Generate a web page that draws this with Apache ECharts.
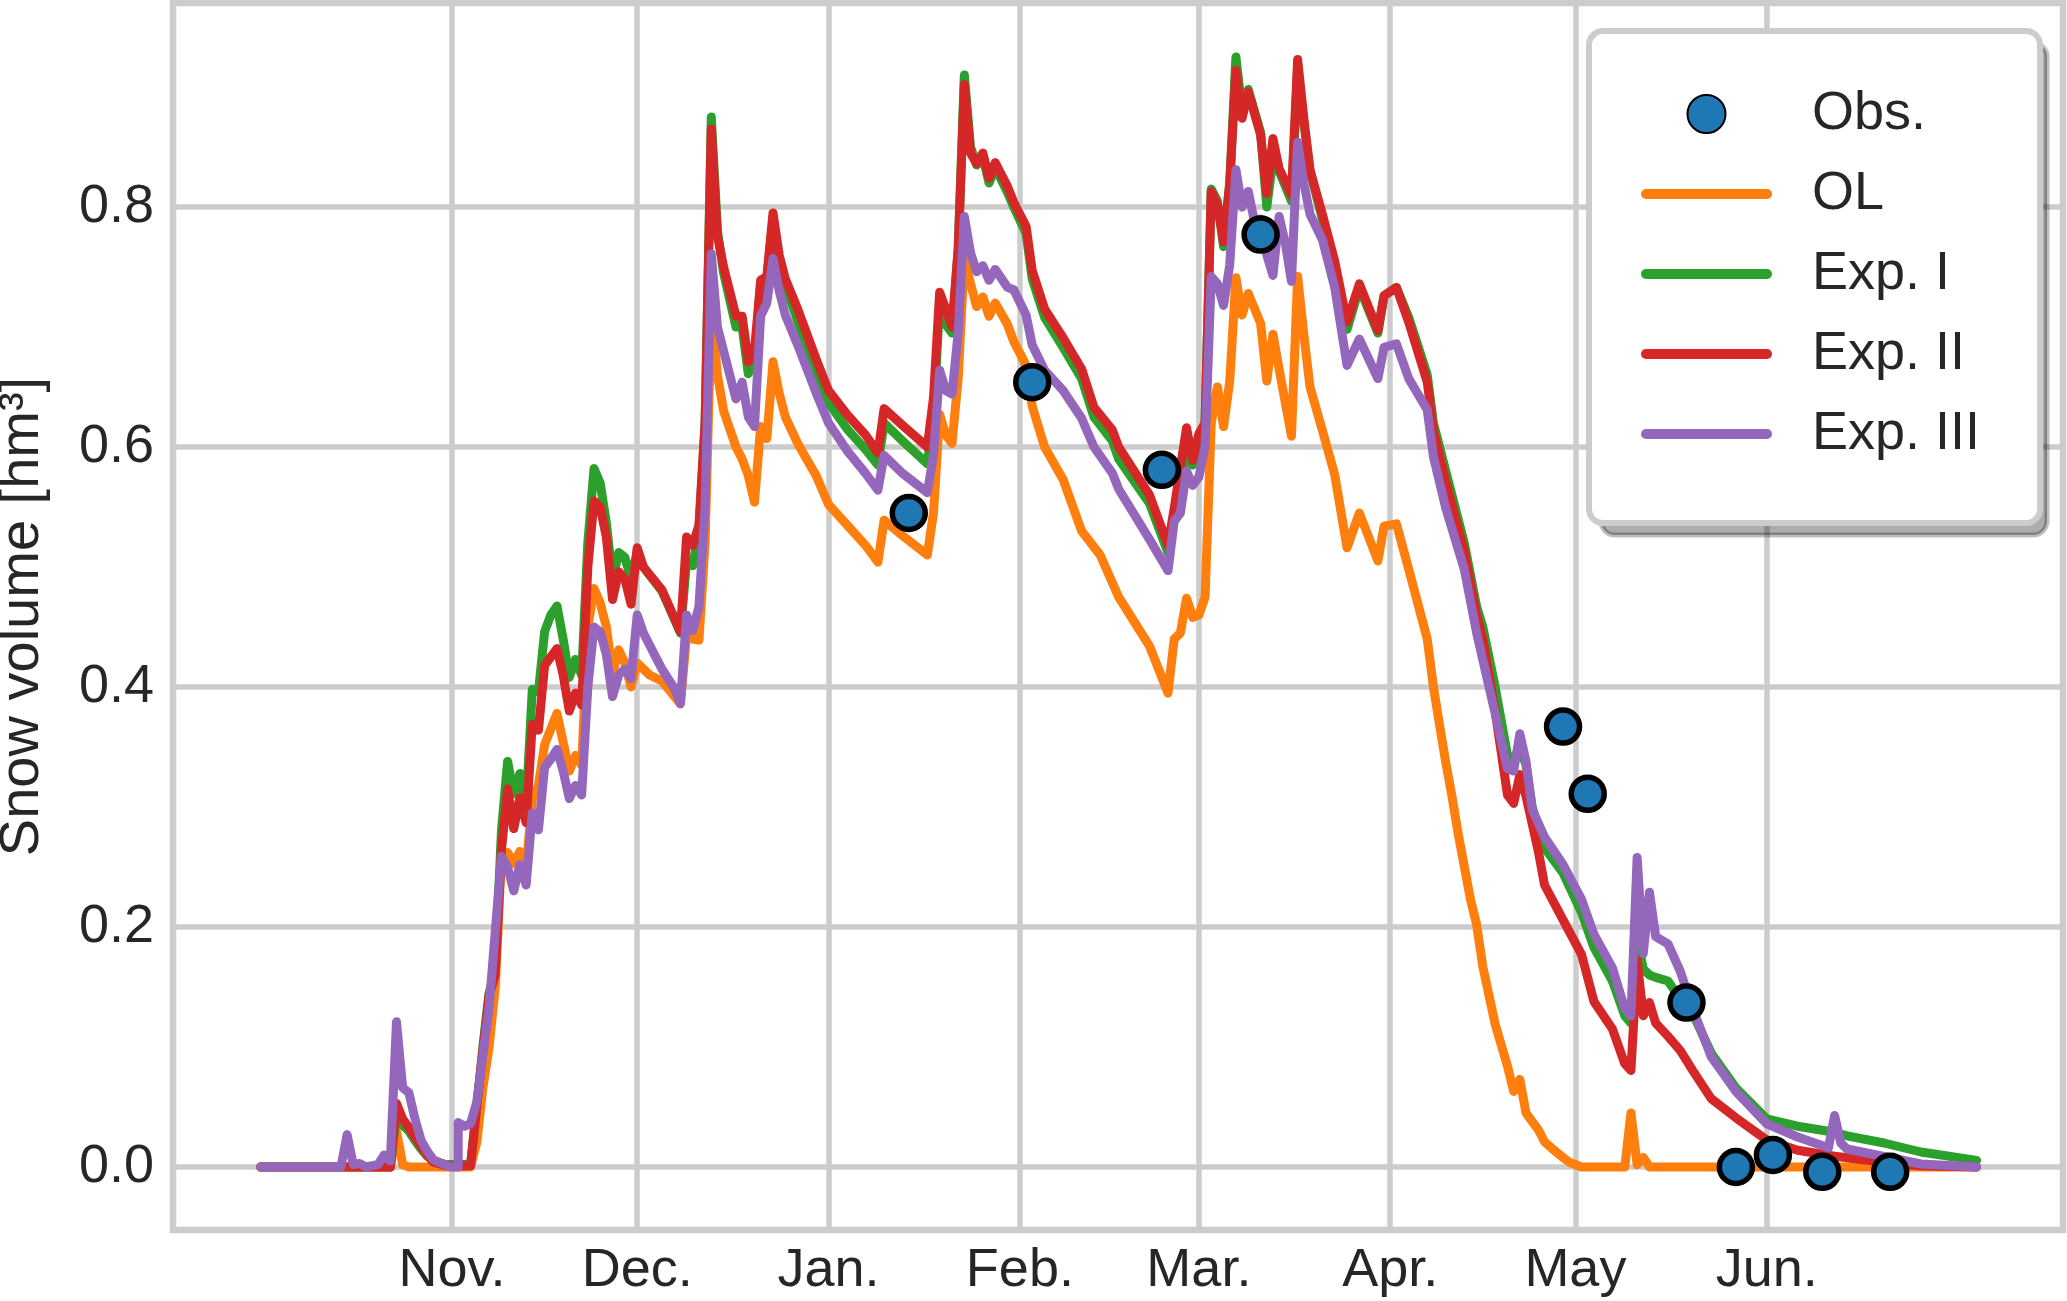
<!DOCTYPE html>
<html>
<head>
<meta charset="utf-8">
<script src="https://cdn.jsdelivr.net/npm/echarts@6.0.0/dist/echarts.min.js"></script>
<style>
  html, body { margin: 0; padding: 0; background: #fff; }
  #chart { width: 2067px; height: 1301px; }
</style>
</head>
<body>
<div id="chart"></div>
<script>
// dates are 'MM-DD', Sep-Dec in 2019, Jan-Jul in 2020
const monthStarts = ['11-01', '12-01', '01-01', '02-01', '03-01', '04-01', '05-01', '06-01']
const monthLabels = ['Nov.', 'Dec.', 'Jan.', 'Feb.', 'Mar.', 'Apr.', 'May', 'Jun.']
const yTicks = [0, 0.2, 0.4, 0.6, 0.8]

const obs = [
    ['01-14', 0.545], ['02-03', 0.654], ['02-24', 0.581], ['03-11', 0.777],
    ['04-29', 0.367], ['05-03', 0.311], ['05-19', 0.137], ['05-27', 0.0],
    ['06-02', 0.010], ['06-10', -0.004], ['06-21', -0.004]
]

const ol = [
    ['10-01', 0], ['10-22', 0], ['10-23', 0.03], ['10-24', 0.002], ['10-25', 0], ['11-04', 0],
    ['11-05', 0.02], ['11-06', 0.066], ['11-07', 0.10], ['11-08', 0.15], ['11-09', 0.257],
    ['11-10', 0.262], ['11-11', 0.253], ['11-12', 0.263], ['11-13', 0.25], ['11-14', 0.306],
    ['11-15', 0.318], ['11-16', 0.352], ['11-18', 0.378], ['11-20', 0.330], ['11-21', 0.343],
    ['11-22', 0.335], ['11-23', 0.45], ['11-24', 0.482], ['11-25', 0.47], ['11-26', 0.45],
    ['11-27', 0.411], ['11-28', 0.431], ['11-29', 0.42], ['11-30', 0.40], ['12-01', 0.42],
    ['12-03', 0.41], ['12-05', 0.405], ['12-08', 0.386], ['12-09', 0.443], ['12-10', 0.44],
    ['12-11', 0.439], ['12-12', 0.52], ['12-13', 0.715], ['12-14', 0.66], ['12-15', 0.63],
    ['12-17', 0.60], ['12-18', 0.59], ['12-19', 0.576], ['12-20', 0.554], ['12-21', 0.617],
    ['12-22', 0.607], ['12-23', 0.671], ['12-24', 0.645], ['12-25', 0.625], ['12-27', 0.603],
    ['12-30', 0.576], ['01-01', 0.552], ['01-04', 0.535], ['01-07', 0.518], ['01-09', 0.504],
    ['01-10', 0.539], ['01-13', 0.526], ['01-17', 0.510], ['01-18', 0.545], ['01-19', 0.627],
    ['01-20', 0.610], ['01-21', 0.603], ['01-22', 0.657], ['01-23', 0.757], ['01-24', 0.736],
    ['01-25', 0.717], ['01-26', 0.725], ['01-27', 0.709], ['01-28', 0.72], ['01-30', 0.702],
    ['01-31', 0.688], ['02-02', 0.668], ['02-03', 0.634], ['02-05', 0.600], ['02-08', 0.573],
    ['02-11', 0.53], ['02-14', 0.51], ['02-17', 0.475], ['02-22', 0.434], ['02-25', 0.395],
    ['02-26', 0.44], ['02-27', 0.445], ['02-28', 0.474], ['02-29', 0.458], ['03-01', 0.46],
    ['03-02', 0.475], ['03-03', 0.62], ['03-04', 0.65], ['03-05', 0.617], ['03-06', 0.655],
    ['03-07', 0.741], ['03-08', 0.710], ['03-09', 0.728], ['03-11', 0.703], ['03-12', 0.655],
    ['03-13', 0.694], ['03-14', 0.665], ['03-16', 0.609], ['03-17', 0.742], ['03-18', 0.694],
    ['03-19', 0.650], ['03-21', 0.614], ['03-23', 0.577], ['03-25', 0.516], ['03-27', 0.545],
    ['03-30', 0.505], ['03-31', 0.534], ['04-02', 0.536], ['04-04', 0.498], ['04-07', 0.44],
    ['04-08', 0.40], ['04-09', 0.368], ['04-10', 0.337], ['04-11', 0.309], ['04-12', 0.278],
    ['04-14', 0.223], ['04-15', 0.202], ['04-16', 0.167], ['04-17', 0.143], ['04-18', 0.119],
    ['04-20', 0.084], ['04-21', 0.063], ['04-22', 0.073], ['04-23', 0.045], ['04-25', 0.031],
    ['04-26', 0.021], ['04-28', 0.012], ['04-30', 0.004], ['05-02', 0], ['05-09', 0],
    ['05-10', 0.045], ['05-11', 0.002], ['05-12', 0.008], ['05-13', 0], ['07-05', 0]
]

const expI = [
    ['10-01', 0], ['10-22', 0], ['10-23', 0.045], ['10-24', 0.035], ['10-25', 0.03], ['10-26', 0.022],
    ['10-27', 0.015], ['10-28', 0.009], ['10-29', 0.005], ['10-31', 0.002], ['11-04', 0.002],
    ['11-05', 0.05], ['11-06', 0.10], ['11-07', 0.145], ['11-08', 0.165], ['11-09', 0.28],
    ['11-10', 0.338], ['11-11', 0.311], ['11-12', 0.328], ['11-13', 0.30], ['11-14', 0.398],
    ['11-15', 0.396], ['11-16', 0.446], ['11-17', 0.46], ['11-18', 0.4675], ['11-19', 0.44],
    ['11-20', 0.408], ['11-21', 0.423], ['11-22', 0.41], ['11-23', 0.52], ['11-24', 0.582],
    ['11-25', 0.57], ['11-26', 0.537], ['11-27', 0.489], ['11-28', 0.512], ['11-29', 0.508],
    ['11-30', 0.49], ['12-01', 0.512], ['12-02', 0.50], ['12-05', 0.48], ['12-08', 0.445],
    ['12-09', 0.505], ['12-10', 0.501], ['12-11', 0.53], ['12-12', 0.62], ['12-13', 0.875],
    ['12-14', 0.78], ['12-15', 0.745], ['12-17', 0.70], ['12-18', 0.70], ['12-19', 0.661],
    ['12-20', 0.675], ['12-21', 0.735], ['12-22', 0.74], ['12-23', 0.79], ['12-24', 0.755],
    ['12-25', 0.735], ['12-27', 0.705], ['12-30', 0.663], ['01-01', 0.637], ['01-04', 0.615],
    ['01-07', 0.598], ['01-09', 0.585], ['01-10', 0.620], ['01-13', 0.605], ['01-17', 0.586],
    ['01-18', 0.625], ['01-19', 0.72], ['01-20', 0.702], ['01-21', 0.695], ['01-22', 0.765],
    ['01-23', 0.91], ['01-24', 0.85], ['01-25', 0.835], ['01-26', 0.842], ['01-27', 0.82],
    ['01-28', 0.833], ['01-30', 0.812], ['01-31', 0.80], ['02-02', 0.778], ['02-03', 0.74],
    ['02-05', 0.708], ['02-08', 0.683], ['02-11', 0.657], ['02-13', 0.625], ['02-16', 0.605],
    ['02-17', 0.59], ['02-22', 0.553], ['02-25', 0.512], ['02-26', 0.545], ['02-28', 0.595],
    ['02-29', 0.585], ['03-01', 0.60], ['03-02', 0.62], ['03-03', 0.815], ['03-04', 0.805],
    ['03-05', 0.767], ['03-06', 0.82], ['03-07', 0.925], ['03-08', 0.88], ['03-09', 0.898],
    ['03-11', 0.862], ['03-12', 0.80], ['03-13', 0.84], ['03-14', 0.83], ['03-16', 0.805],
    ['03-17', 0.915], ['03-18', 0.87], ['03-19', 0.83], ['03-21', 0.79], ['03-23', 0.752],
    ['03-25', 0.698], ['03-27', 0.733], ['03-30', 0.695], ['03-31', 0.726], ['04-02', 0.733],
    ['04-04', 0.708], ['04-07', 0.66], ['04-08', 0.62], ['04-10', 0.58], ['04-13', 0.52],
    ['04-15', 0.467], ['04-16', 0.45], ['04-18', 0.40], ['04-20', 0.343], ['04-21', 0.34],
    ['04-22', 0.35], ['04-23', 0.335], ['04-24', 0.30], ['04-26', 0.266], ['04-29', 0.245],
    ['05-02', 0.212], ['05-04', 0.183], ['05-07', 0.155], ['05-09', 0.126], ['05-10', 0.12],
    ['05-11', 0.19], ['05-12', 0.165], ['05-13', 0.16], ['05-14', 0.158], ['05-16', 0.155],
    ['05-18', 0.14], ['05-20', 0.128], ['05-23', 0.095], ['05-27', 0.066], ['06-01', 0.04],
    ['06-06', 0.034], ['06-12', 0.029], ['06-14', 0.026], ['06-20', 0.02], ['06-26', 0.0125],
    ['07-05', 0.0055]
]

const expII = [
    ['10-01', 0], ['10-22', 0], ['10-23', 0.053], ['10-24', 0.04], ['10-25', 0.033], ['10-26', 0.025],
    ['10-27', 0.017], ['10-28', 0.01], ['10-29', 0.004], ['10-31', 0.001], ['11-04', 0.001],
    ['11-05', 0.05], ['11-06', 0.097], ['11-07', 0.143], ['11-08', 0.16], ['11-09', 0.264],
    ['11-10', 0.315], ['11-11', 0.282], ['11-12', 0.308], ['11-13', 0.287], ['11-14', 0.369],
    ['11-15', 0.364], ['11-16', 0.418], ['11-17', 0.425], ['11-18', 0.432], ['11-19', 0.41],
    ['11-20', 0.38], ['11-21', 0.395], ['11-22', 0.385], ['11-23', 0.50], ['11-24', 0.555],
    ['11-25', 0.55], ['11-26', 0.525], ['11-27', 0.473], ['11-28', 0.496], ['11-29', 0.49],
    ['11-30', 0.469], ['12-01', 0.516], ['12-02', 0.50], ['12-05', 0.481], ['12-08', 0.446],
    ['12-09', 0.525], ['12-10', 0.518], ['12-11', 0.535], ['12-12', 0.62], ['12-13', 0.865],
    ['12-14', 0.776], ['12-15', 0.75], ['12-17', 0.709], ['12-18', 0.709], ['12-19', 0.671],
    ['12-20', 0.68], ['12-21', 0.739], ['12-22', 0.742], ['12-23', 0.795], ['12-24', 0.76],
    ['12-25', 0.74], ['12-27', 0.715], ['12-30', 0.673], ['01-01', 0.647], ['01-04', 0.627],
    ['01-07', 0.610], ['01-09', 0.595], ['01-10', 0.632], ['01-13', 0.618], ['01-17', 0.600],
    ['01-18', 0.641], ['01-19', 0.729], ['01-20', 0.715], ['01-21', 0.70], ['01-22', 0.765],
    ['01-23', 0.902], ['01-24', 0.845], ['01-25', 0.836], ['01-26', 0.845], ['01-27', 0.824],
    ['01-28', 0.837], ['01-30', 0.817], ['01-31', 0.804], ['02-02', 0.784], ['02-03', 0.747],
    ['02-05', 0.715], ['02-08', 0.691], ['02-11', 0.665], ['02-13', 0.633], ['02-16', 0.614],
    ['02-17', 0.60], ['02-22', 0.560], ['02-25', 0.518], ['02-26', 0.549], ['02-28', 0.616],
    ['02-29', 0.589], ['03-01', 0.611], ['03-02', 0.62], ['03-03', 0.813], ['03-04', 0.802],
    ['03-05', 0.771], ['03-06', 0.820], ['03-07', 0.914], ['03-08', 0.874], ['03-09', 0.896],
    ['03-11', 0.860], ['03-12', 0.811], ['03-13', 0.857], ['03-14', 0.832], ['03-16', 0.810],
    ['03-17', 0.923], ['03-18', 0.874], ['03-19', 0.831], ['03-21', 0.794], ['03-23', 0.755],
    ['03-25', 0.704], ['03-27', 0.736], ['03-30', 0.697], ['03-31', 0.726], ['04-02', 0.733],
    ['04-04', 0.704], ['04-07', 0.654], ['04-08', 0.614], ['04-10', 0.571], ['04-13', 0.513],
    ['04-15', 0.46], ['04-16', 0.44], ['04-18', 0.38], ['04-20', 0.31], ['04-21', 0.303],
    ['04-22', 0.327], ['04-23', 0.309], ['04-25', 0.263], ['04-26', 0.235], ['04-29', 0.206],
    ['05-02', 0.177], ['05-04', 0.138], ['05-07', 0.115], ['05-09', 0.086], ['05-10', 0.0805],
    ['05-11', 0.172], ['05-12', 0.126], ['05-13', 0.137], ['05-14', 0.120], ['05-16', 0.109],
    ['05-18', 0.097], ['05-20', 0.0805], ['05-23', 0.057], ['05-27', 0.041], ['06-01', 0.0225],
    ['06-06', 0.014], ['06-12', 0.009], ['06-20', 0.004], ['06-26', 0.001], ['07-05', 0]
]

const expIII = [
    ['10-01', 0], ['10-14', 0], ['10-15', 0.027], ['10-16', 0.002], ['10-17', 0.003], ['10-18', 0],
    ['10-20', 0.002], ['10-21', 0.01], ['10-22', 0.005], ['10-23', 0.121], ['10-24', 0.066],
    ['10-25', 0.062], ['10-26', 0.04], ['10-27', 0.022], ['10-28', 0.013], ['10-29', 0.006],
    ['10-31', 0.0015], ['11-01', 0], ['11-02', 0], ['11-02', 0.037], ['11-03', 0.034],
    ['11-04', 0.036], ['11-05', 0.054], ['11-06', 0.093], ['11-07', 0.133], ['11-08', 0.196],
    ['11-09', 0.259], ['11-10', 0.25], ['11-11', 0.23], ['11-12', 0.252], ['11-13', 0.235],
    ['11-14', 0.295], ['11-15', 0.281], ['11-16', 0.333], ['11-17', 0.34], ['11-18', 0.348],
    ['11-19', 0.33], ['11-20', 0.307], ['11-21', 0.318], ['11-22', 0.31], ['11-23', 0.40],
    ['11-24', 0.450], ['11-25', 0.446], ['11-26', 0.427], ['11-27', 0.392], ['11-28', 0.41],
    ['11-29', 0.415], ['11-30', 0.407], ['12-01', 0.460], ['12-02', 0.445], ['12-03', 0.435],
    ['12-05', 0.415], ['12-07', 0.399], ['12-08', 0.386], ['12-09', 0.46], ['12-10', 0.447],
    ['12-11', 0.467], ['12-12', 0.55], ['12-13', 0.761], ['12-14', 0.70], ['12-15', 0.68],
    ['12-16', 0.66], ['12-17', 0.640], ['12-18', 0.654], ['12-19', 0.625], ['12-20', 0.617],
    ['12-21', 0.709], ['12-22', 0.72], ['12-23', 0.757], ['12-24', 0.73], ['12-25', 0.71],
    ['12-27', 0.685], ['12-30', 0.645], ['01-01', 0.620], ['01-04', 0.597], ['01-07', 0.578],
    ['01-09', 0.564], ['01-10', 0.593], ['01-13', 0.578], ['01-17', 0.562], ['01-18', 0.593],
    ['01-19', 0.664], ['01-20', 0.647], ['01-21', 0.644], ['01-22', 0.695], ['01-23', 0.792],
    ['01-24', 0.762], ['01-25', 0.746], ['01-26', 0.751], ['01-27', 0.739], ['01-28', 0.748],
    ['01-30', 0.733], ['01-31', 0.731], ['02-02', 0.710], ['02-03', 0.685], ['02-05', 0.664],
    ['02-08', 0.647], ['02-11', 0.624], ['02-13', 0.600], ['02-16', 0.578], ['02-17', 0.565],
    ['02-22', 0.523], ['02-25', 0.497], ['02-26', 0.538], ['02-27', 0.545], ['02-28', 0.580],
    ['02-29', 0.568], ['03-01', 0.575], ['03-02', 0.60], ['03-03', 0.742], ['03-04', 0.736],
    ['03-05', 0.718], ['03-06', 0.752], ['03-07', 0.831], ['03-08', 0.80], ['03-09', 0.813],
    ['03-10', 0.788], ['03-11', 0.79], ['03-12', 0.76], ['03-13', 0.743], ['03-14', 0.792],
    ['03-15', 0.77], ['03-16', 0.738], ['03-17', 0.854], ['03-18', 0.82], ['03-19', 0.794],
    ['03-21', 0.773], ['03-23', 0.733], ['03-25', 0.668], ['03-27', 0.690], ['03-30', 0.657],
    ['03-31', 0.683], ['04-02', 0.686], ['04-04', 0.657], ['04-07', 0.631], ['04-08', 0.592],
    ['04-10', 0.549], ['04-13', 0.498], ['04-15', 0.445], ['04-18', 0.378], ['04-20', 0.332],
    ['04-21', 0.33], ['04-22', 0.361], ['04-23', 0.338], ['04-24', 0.298], ['04-26', 0.275],
    ['04-29', 0.252], ['05-02', 0.223], ['05-04', 0.194], ['05-07', 0.166], ['05-09', 0.132],
    ['05-10', 0.126], ['05-11', 0.258], ['05-12', 0.178], ['05-13', 0.229], ['05-14', 0.192],
    ['05-16', 0.186], ['05-18', 0.163], ['05-20', 0.132], ['05-23', 0.092], ['05-27', 0.063],
    ['06-01', 0.036], ['06-06', 0.025], ['06-11', 0.016], ['06-12', 0.043], ['06-13', 0.02],
    ['06-14', 0.015], ['06-26', 0.0025], ['07-05', 0]
]

const FONT = 'Liberation Sans'
const TXT = '#262626'
const GRID = '#cccccc'

// 'MM-DD' of the 2019/20 season -> epoch ms (local time)
function day(md) {
    const m = +md.slice(0, 2)
    return new Date(m >= 9 ? 2019 : 2020, m - 1, +md.slice(3)).getTime()
}
function withTime(list) {
    return list.map(function(p) { return [day(p[0]), p[1]] })
}
const tickTimes = monthStarts.map(day)

function lineSeries(name, list, color) {
    return {
        name: name,
        type: 'line',
        data: withTime(list),
        symbol: 'none',
        showSymbol: false,
        silent: true,
        lineStyle: { color: color, width: 9, join: 'round', cap: 'round' },
        // hides the dot ECharts puts on line legend icons
        itemStyle: { color: color, opacity: 0 }
    }
}

const chart = echarts.init(document.getElementById('chart'), null, { renderer: 'canvas' })
chart.setOption({
    animation: false,
    backgroundColor: '#fff',
    grid: {
        left: 173, right: 4, top: 3, bottom: 71,
        outerBoundsMode: 'none',
        containLabel: false,
        show: true, borderColor: GRID, borderWidth: 6.5, backgroundColor: '#fff'
    },
    // matplotlib-style offset shadow behind the legend box
    graphic: [{
        type: 'rect',
        z: 3,
        silent: true,
        shape: { x: 1601, y: 43, width: 446, height: 492, r: 14 },
        style: { fill: 'rgba(0,0,0,0.32)', stroke: 'rgba(0,0,0,0.25)', lineWidth: 5 }
    }],
    xAxis: {
        type: 'value',
        min: new Date(2019, 8, 16, 19).getTime(),
        max: new Date(2020, 6, 19).getTime(),
        axisLine: { show: false },
        axisTick: { show: false, customValues: tickTimes },
        splitLine: { show: true, lineStyle: { color: GRID, width: 5.5 } },
        axisLabel: {
            customValues: tickTimes,
            margin: 14,
            fontSize: 54,
            fontFamily: FONT,
            color: TXT,
            formatter: function(v) { return monthLabels[tickTimes.indexOf(v)] }
        }
    },
    yAxis: {
        type: 'value',
        min: -0.0525,
        max: 0.97,
        axisLine: { show: false },
        axisTick: { show: false, customValues: yTicks },
        splitLine: { show: true, lineStyle: { color: GRID, width: 5.5 } },
        axisLabel: {
            customValues: yTicks,
            margin: 19,
            fontSize: 54,
            fontFamily: FONT,
            color: TXT,
            formatter: function(v) { return v.toFixed(1) }
        },
        name: 'Snow volume [hm³]',
        nameLocation: 'middle',
        nameRotate: 90,
        nameGap: 122,
        nameTextStyle: { fontSize: 56, fontFamily: FONT, color: TXT }
    },
    legend: {
        data: [
            'Obs.',
            { name: 'OL', itemStyle: { opacity: 0 } },
            { name: 'Exp. I', itemStyle: { opacity: 0 } },
            { name: 'Exp. II', itemStyle: { opacity: 0 } },
            { name: 'Exp. III', itemStyle: { opacity: 0 } }
        ],
        z: 4,
        orient: 'vertical',
        left: 1589,
        top: 31,
        padding: [56, 60, 62, 52],
        itemGap: 26,
        itemWidth: 121,
        itemHeight: 38,
        lineStyle: { width: 10, cap: 'round' },
        backgroundColor: '#fff',
        borderColor: GRID,
        borderWidth: 6,
        borderRadius: 14,
        selectedMode: false,
        textStyle: { fontSize: 54, fontFamily: FONT, color: TXT, padding: [0, 0, 0, 40] }
    },
    series: [
        lineSeries('OL', ol, '#ff7f0e'),
        lineSeries('Exp. I', expI, '#2ca02c'),
        lineSeries('Exp. II', expII, '#d62728'),
        lineSeries('Exp. III', expIII, '#9467bd'),
        {
            name: 'Obs.',
            type: 'scatter',
            data: withTime(obs),
            symbol: 'circle',
            symbolSize: 33,
            symbolKeepAspect: true,
            silent: true,
            z: 5,
            itemStyle: { color: '#1f77b4', borderColor: '#000', borderWidth: 5.5, opacity: 1 }
        }
    ]
})
</script>
</body>
</html>
